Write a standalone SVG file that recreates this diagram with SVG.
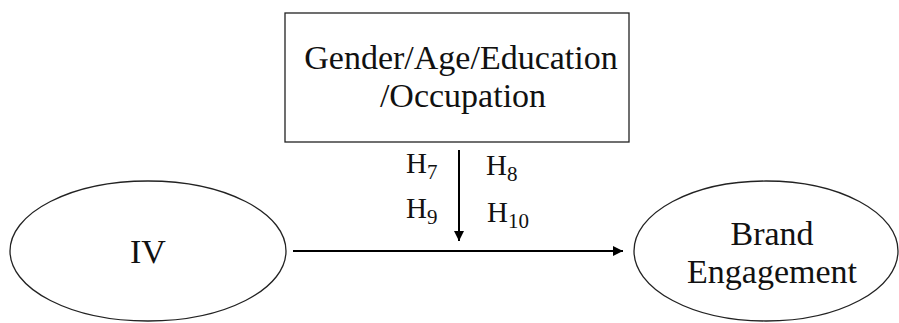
<svg xmlns="http://www.w3.org/2000/svg" width="899" height="323" viewBox="0 0 899 323">
<style>
.t{font-family:"Liberation Serif","DejaVu Serif",serif;font-size:34px;fill:#111;text-anchor:middle}
.h{font-family:"Liberation Serif","DejaVu Serif",serif;font-size:29px;fill:#111}
.s{font-size:21px}
.shape{fill:#fff;stroke:#222;stroke-width:1.3}
.line{stroke:#000;stroke-width:2;fill:none}
</style>
<defs>
<marker id="arr" viewBox="0 0 10 10" refX="10" refY="5" markerWidth="5" markerHeight="5" orient="auto" markerUnits="strokeWidth">
<path d="M0,0 L10,5 L0,10 z" fill="#000"/>
</marker>
</defs>
<rect width="899" height="323" fill="#fff"/>
<g id="moderator">
<rect class="shape" x="285" y="13" width="344" height="129"/>
<text class="t" x="461" y="69">Gender/Age/Education</text>
<text class="t" x="463" y="107">/Occupation</text>
</g>
<g id="iv">
<ellipse class="shape" cx="148" cy="251" rx="138" ry="70"/>
<text class="t" x="148" y="263">IV</text>
</g>
<g id="dv">
<ellipse class="shape" cx="766" cy="251" rx="132" ry="70"/>
<text class="t" x="772" y="245">Brand</text>
<text class="t" x="772" y="283">Engagement</text>
</g>
<g id="connectors">
<line class="line" x1="459" y1="150" x2="459" y2="241" marker-end="url(#arr)"/>
<line class="line" x1="293" y1="251" x2="623" y2="251" marker-end="url(#arr)"/>
</g>
<g id="labels">
<text class="h" x="406" y="173">H<tspan class="s" dy="6">7</tspan></text>
<text class="h" x="486" y="175">H<tspan class="s" dy="6">8</tspan></text>
<text class="h" x="406" y="218">H<tspan class="s" dy="6">9</tspan></text>
<text class="h" x="487" y="222">H<tspan class="s" dy="6">10</tspan></text>
</g>
</svg>
